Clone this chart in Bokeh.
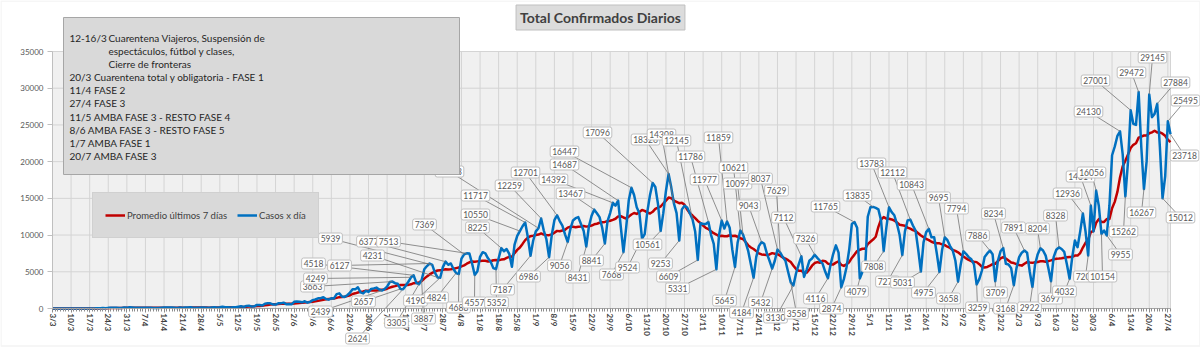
import pandas as pd
from bokeh.plotting import figure
from bokeh.models import Range1d, FixedTicker, Legend, LegendItem, Label, BoxAnnotation
from bokeh.embed import file_html
from bokeh.resources import INLINE

# ------------------------------------------------------------------ data
# daily confirmed cases, 3/3/2020 .. 28/4/2021, one list per month
mar_2020 = [1, 0, 1, 6, 1, 3, 5, 2, 2, 12, 3, 11, 11, 11, 9, 14, 18, 31, 30, 67, 41,
            86, 116, 87, 101, 55, 75, 146, 88]
apr_2020 = [167, 132, 89, 88, 107, 98, 87, 93, 104, 84, 81, 60, 100, 143, 138, 124, 133,
            110, 74, 121, 112, 134, 144, 172, 111, 115, 102, 124, 143, 111]
may_2020 = [111, 152, 158, 103, 165, 240, 167, 163, 145, 164, 173, 250, 316, 219, 345, 390,
            263, 298, 487, 474, 411, 648, 718, 704, 552, 535, 704, 703, 795, 589, 612]
jun_2020 = [564, 904, 949, 929, 840, 983, 795, 904, 1141, 1226, 1386, 1391, 1531, 1282, 1208,
            1393, 1374, 1958, 2060, 1634, 1581, 1808, 2146, 2635, 2606, 2886, 2189, 2060,
            2401, 2262]
jul_2020 = [2667, 2744, 2845, 2590, 2439, 2632, 2979, 3604, 3663, 3449, 3367, 2657, 2624,
            3099, 3645, 4249, 4518, 3500, 3305, 3887, 5344, 5782, 6127, 5939, 4880, 4231,
            4190, 5641, 6377, 5957, 6134]
aug_2020 = [5376, 4824, 4688, 6792, 7369, 7513, 7482, 6134, 4557, 5075, 7043, 7663, 7498,
            6840, 6365, 5500, 5352, 6840, 8225, 7800, 8100, 7450, 5679, 8713, 9900, 10550,
            11200, 11717, 9700, 7187, 9230]
sep_2020 = [10504, 10933, 12259, 10620, 9400, 6986, 10000, 12027, 12701, 11905, 11300, 10100,
            9056, 10800, 11990, 12297, 12440, 11500, 10600, 8431, 11200, 12625, 13467, 12969,
            12440, 11000, 8841, 11900, 13000, 14392]
oct_2020 = [14001, 14687, 11129, 7668, 10945, 14740, 16447, 15454, 13800, 12982, 9524, 10142,
            13198, 15454, 17096, 16546, 14252, 10561, 12982, 16000, 18326, 16500, 14308,
            13000, 9253, 13500, 14001, 13760, 12982, 12145, 10500]
nov_2020 = [6609, 11600, 11500, 11500, 11786, 10000, 8800, 5331, 10000, 11977, 10897, 11859,
            11000, 8000, 5645, 9000, 10621, 10097, 9000, 7800, 6000, 4184, 7000, 8500, 9043,
            8810, 7500, 6500, 5432, 6500]
dec_2020 = [8037, 7629, 7000, 6500, 5000, 3558, 3130, 4800, 6000, 7112, 4300, 5300, 6500,
            6800, 7326, 6900, 6500, 6090, 5000, 4116, 6000, 7450, 8600, 7600, 2874, 4000,
            5630, 8000, 11500, 11765, 11000]
jan_2021 = [4079, 5000, 5500, 12500, 13790, 13835, 13700, 13500, 12000, 7808, 11000, 13783,
            13120, 12700, 11500, 10000, 7270, 10500, 11990, 12112, 11300, 10620, 8000, 5031,
            9000, 10400, 10843, 9700, 9720, 7500, 4975]
feb_2021 = [8000, 9695, 9300, 8500, 7900, 6500, 3658, 6000, 7794, 7450, 7000, 6700, 6000,
            3259, 4000, 5175, 7000, 7500, 7886, 7400, 3709, 6500, 7800, 8234, 6100, 6000,
            5500, 3168]
mar_2021 = [5500, 7000, 7600, 7891, 7600, 5000, 2922, 6000, 7400, 8204, 7900, 7200, 5500,
            3697, 7000, 8000, 8328, 8100, 7700, 6000, 4032, 7000, 9260, 8350, 10500, 12936,
            10500, 7203, 14014, 10500, 16056]
apr_2021 = [14000, 10154, 10620, 9955, 14000, 20870, 22039, 23500, 24130, 21000, 15262, 20000,
            27001, 25157, 25000, 29472, 22000, 16267, 20000, 29145, 26060, 26500, 27884,
            22000, 15012, 18000, 25495, 23718]

casos = (mar_2020 + apr_2020 + may_2020 + jun_2020 + jul_2020 + aug_2020 + sep_2020 +
         oct_2020 + nov_2020 + dec_2020 + jan_2021 + feb_2021 + mar_2021 + apr_2021)
dias = list(range(len(casos)))
promedio = pd.Series(casos, dtype=float).rolling(7, min_periods=1).mean().tolist()

tick_labels = ["3/3", "10/3", "17/3", "24/3", "31/3", "7/4", "14/4", "21/4", "28/4", "5/5",
               "12/5", "19/5", "26/5", "2/6", "9/6", "16/6", "23/6", "30/6", "7/7", "14/7",
               "21/7", "28/7", "4/8", "11/8", "18/8", "25/8", "1/9", "8/9", "15/9", "22/9",
               "29/9", "6/10", "13/10", "20/10", "27/10", "3/11", "10/11", "17/11", "24/11",
               "1/12", "8/12", "15/12", "22/12", "29/12", "5/1", "12/1", "19/1", "26/1",
               "2/2", "9/2", "16/2", "23/2", "2/3", "9/3", "16/3", "23/3", "30/3", "6/4",
               "13/4", "20/4", "27/4"]
y_ticks = [0, 5000, 10000, 15000, 20000, 25000, 30000, 35000]

# days that carry a data label (drawn in this order)
label_days = [124, 128, 131, 132, 135, 136, 138, 139, 142, 143, 145, 146, 148, 152, 153, 155,
              156, 159, 167, 169, 176, 178, 180, 183, 184, 187, 190, 194, 201, 204, 208, 211,
              213, 215, 218, 222, 226, 229, 232, 234, 236, 241, 243, 247, 250, 252, 254, 257,
              259, 260, 264, 267, 271, 273, 274, 279, 278, 282, 287, 292, 297, 302, 304, 309,
              313, 315, 320, 323, 327, 330, 334, 336, 341, 343, 348, 353, 355, 358, 362, 366,
              369, 372, 376, 379, 383, 388, 390, 391, 393, 395, 397, 402, 404, 406, 409, 411,
              413, 416, 418, 420, 421]

annotation_lines = ["12-16/3", "Cuarentena Viajeros, Suspensión de",
                    "espectáculos, fútbol y clases,", "Cierre de fronteras",
                    "20/3 Cuarentena total y obligatoria - FASE 1", "11/4 FASE 2",
                    "27/4 FASE 3", "11/5 AMBA FASE 3 - RESTO FASE 4",
                    "8/6 AMBA FASE 3 - RESTO FASE 5", "1/7 AMBA FASE 1", "20/7 AMBA FASE 3"]

# ------------------------------------------------------------------ layout
W, H = 1200, 347
PL, PR, AX = 52, 1170, 308                  # plot-area left / right, x-axis line (px)
PLOT_TOP_PX = 51                            # where 35000 sits
N = len(casos) - 1
PX_PER_DAY = (PR - PL) / N
UNITS_PER_PX = 35000 / (AX - PLOT_TOP_PX)


def px2x(px):
    return (px - PL) / PX_PER_DAY


def py2y(py):
    return (AX - py) * UNITS_PER_PX


# label box centres in pixels (same order as label_days)
label_px = [(320, 311), (312, 286), (363, 301), (357, 338), (315, 278), (313, 263), (396, 322),
            (423, 318), (339, 265), (330, 238), (372, 255), (415, 300), (368, 241), (436, 297),
            (458, 307), (424, 224), (388, 241), (474, 302), (496, 302), (477, 227), (475, 214),
            (475, 195), (502, 289), (449, 171), (509, 185), (528, 276), (525, 172), (559, 265),
            (577, 277), (570, 193), (591, 260), (553, 179), (564, 164), (611, 274), (564, 151),
            (627, 267), (597, 132), (647, 244), (645, 139), (661, 134), (660, 263), (676, 140),
            (668, 276), (690, 156), (677, 288), (704, 179), (718, 137), (724, 300), (733, 167),
            (737, 183), (741, 312), (748, 205), (760, 302), (760, 178), (776, 190), (775, 317),
            (796, 313), (783, 217), (805, 238), (815, 298), (831, 308), (825, 206), (856, 291),
            (857, 195), (873, 266), (871, 163), (887, 281), (892, 172), (902, 282), (911, 184),
            (923, 292), (938, 197), (948, 298), (956, 208), (977, 307), (977, 235), (995, 292),
            (993, 213), (1005, 308), (1013, 227), (1029, 307), (1037, 228), (1050, 298),
            (1055, 215), (1064, 291), (1067, 193), (1085, 276), (1080, 176), (1091, 172),
            (1102, 276), (1120, 254), (1088, 111), (1123, 231), (1095, 80), (1131, 72),
            (1141, 212), (1152, 57), (1175, 82), (1180, 217), (1185, 100), (1184, 155)]

annotation_px = [(69, 37), (108, 37), (108, 50), (108, 63), (69, 76.5), (69, 89.7),
                 (69, 102.9), (69, 116), (69, 129), (69, 142), (69, 155)]

FONT = "Lato"
BLUE = "#0070c0"
RED = "#c00000"

# the frame covers the whole canvas; both axes are pinned at 0 inside it
p = figure(width=W, height=H, output_backend="svg", toolbar_location=None,
           x_range=Range1d(-PL / PX_PER_DAY, (W - PL) / PX_PER_DAY),
           y_range=Range1d(-(H - AX) * UNITS_PER_PX, AX * UNITS_PER_PX),
           min_border_left=0, min_border_right=0, min_border_top=0, min_border_bottom=0)
p.outline_line_color = None
p.background_fill_color = "white"
p.border_fill_color = "white"
p.xgrid.visible = False
p.ygrid.visible = False

# plot area background and grid
tick_pos = [7 * i for i in range(len(tick_labels))]
p.quad(left=0, right=N, bottom=0, top=35000, fill_color="#f0f0f0", line_color=None)
p.segment(x0=tick_pos + [N], y0=0, x1=tick_pos + [N], y1=35000, line_color="#d4d4d4", line_width=1)
p.segment(x0=0, y0=y_ticks, x1=N, y1=y_ticks, line_color="#d4d4d4", line_width=1)

# axes
xa = p.xaxis[0]
xa.fixed_location = 0
xa.ticker = FixedTicker(ticks=tick_pos, minor_ticks=dias)
xa.major_label_overrides = {t: s for t, s in zip(tick_pos, tick_labels)}
xa.major_label_orientation = "vertical"
xa.bounds = (0, N)
xa.axis_line_color = "#a6a6a6"
xa.major_tick_line_color = "#8c8c8c"
xa.minor_tick_line_color = "#8c8c8c"
xa.major_tick_in = 0
xa.major_tick_out = 4
xa.minor_tick_in = 0
xa.minor_tick_out = 3
xa.major_label_standoff = 1
xa.major_label_text_font = FONT
xa.major_label_text_font_size = "8px"
xa.major_label_text_font_style = "bold"
xa.major_label_text_color = "#404040"

ya = p.yaxis[0]
ya.fixed_location = 0
ya.ticker = FixedTicker(ticks=y_ticks)
ya.bounds = (0, 35000)
ya.axis_line_color = "#bfbfbf"
ya.major_tick_line_color = "#bfbfbf"
ya.minor_tick_line_color = None
ya.major_tick_in = 0
ya.major_tick_out = 5
ya.major_label_standoff = 4
ya.major_label_text_font = FONT
ya.major_label_text_font_size = "8px"
ya.major_label_text_color = "#595959"

# series
r_avg = p.line(dias, promedio, line_color=RED, line_width=2.5, line_join="round")
r_cases = p.line(dias, casos, line_color=BLUE, line_width=2.5, line_join="round")

# data labels with leader lines
lx = [px2x(a) for a, b in label_px]
ly = [py2y(b) for a, b in label_px]
p.segment(x0=lx, y0=ly, x1=label_days, y1=[casos[d] for d in label_days],
          line_color="#737373", line_width=0.8)
for d, x, y in zip(label_days, lx, ly):
    p.add_layout(Label(x=x, y=y, text=str(casos[d]), text_align="center",
                       text_baseline="middle", text_font=FONT, text_font_size="8.5px",
                       text_color="#595959", background_fill_color="white",
                       border_line_color="#bfbfbf", border_line_width=1, padding=2,
                       border_radius=2))

# annotation box
p.add_layout(BoxAnnotation(left=px2x(63), right=px2x(459), top=py2y(17), bottom=py2y(174),
                           fill_color="#d9d9d9", fill_alpha=1.0, line_color="#a6a6a6",
                           line_width=1, line_alpha=1.0))
for txt, (a, b) in zip(annotation_lines, annotation_px):
    p.add_layout(Label(x=px2x(a), y=py2y(b), text=txt, text_align="left",
                       text_baseline="middle", text_font=FONT, text_font_size="10px",
                       text_color="#262626"))

# title
p.add_layout(Label(x=px2x(600), y=py2y(17), text="Total Confirmados Diarios",
                   text_align="center", text_baseline="middle", text_font=FONT,
                   text_font_size="14px", text_font_style="bold", text_color="#404040",
                   background_fill_color="#dcdcdc", border_line_color="#bfbfbf", padding=4))

# legend (location measured from the frame's bottom-left corner)
legend = Legend(items=[LegendItem(label="Promedio últimos 7 días", renderers=[r_avg]),
                       LegendItem(label="Casos x día", renderers=[r_cases])],
                orientation="horizontal", location=(92, H - 238))
legend.background_fill_color = "#d9d9d9"
legend.background_fill_alpha = 1.0
legend.border_line_color = "#c8c8c8"
legend.label_text_font = FONT
legend.label_text_font_size = "9.5px"
legend.label_text_color = "#404040"
legend.glyph_width = 20
legend.glyph_height = 20
legend.label_standoff = 2
legend.spacing = 10
legend.padding = 12
legend.margin = 0
p.add_layout(legend)

# thin chart-area border
p.add_layout(BoxAnnotation(left=px2x(0.5), right=px2x(W - 0.5), top=py2y(0.5), bottom=py2y(H - 1.5),
                           fill_alpha=0, line_color="#d9d9d9", line_width=1.5))

open("out.html", "w").write(file_html(p, INLINE))
